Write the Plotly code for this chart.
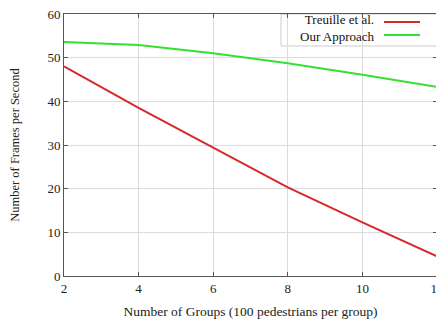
import plotly.graph_objects as go

groups = [2, 4, 6, 8, 10, 12]
treuille_fps = [48.0, 38.5, 29.4, 20.3, 12.3, 4.5]
our_fps = [53.6, 52.9, 51.0, 48.7, 46.1, 43.3]
series_names = ["Treuille et al.", "Our Approach"]
x_ticks = [2, 4, 6, 8, 10, 12]
y_ticks = [0, 10, 20, 30, 40, 50, 60]

FONT = "Liberation Serif"
RED = "#d62a2a"
GREEN = "#33e033"

# page body has an 8px margin; figure placed at (8, 8)
OFF = 8
FW, FH = 444 - OFF, 320 - OFF
L, R, T, B = 64, 437, 14, 276   # target plot area in window pixels
W, H = R - L, B - T

fig = go.Figure()
fig.add_trace(go.Scatter(x=groups, y=treuille_fps, mode="lines", name=series_names[0],
                         line=dict(color=RED, width=2), showlegend=False))
fig.add_trace(go.Scatter(x=groups, y=our_fps, mode="lines", name=series_names[1],
                         line=dict(color=GREEN, width=2), showlegend=False))

axis_common = dict(showgrid=True, gridcolor="#dcdcdc", gridwidth=1,
                   showline=True, linecolor="#555555", linewidth=1, mirror="ticks",
                   ticks="inside", ticklen=4, tickcolor="#555555", zeroline=False,
                   automargin=False, ticklabeloverflow="allow",
                   tickfont=dict(family=FONT, size=13, color="#222222"))

fig.update_xaxes(range=[2, 12], tickvals=x_ticks,
                 title=dict(text="Number of Groups (100 pedestrians per group)",
                            font=dict(family=FONT, size=13.5, color="#222222"), standoff=11),
                 **axis_common)
fig.update_yaxes(range=[0, 60], tickvals=y_ticks,
                 title=dict(text="Number of Frames per Second",
                            font=dict(family=FONT, size=12.5, color="#222222"), standoff=25),
                 **axis_common)

# Custom gnuplot-style key: text right-aligned, line sample on the right
fig.add_shape(type="rect", xref="paper", yref="paper", x0=(281 - L) / W, x1=1.0,
              y0=1 - (46 - T) / H, y1=1.0, fillcolor="white",
              line=dict(color="#cccccc", width=1), layer="below")
fig.add_annotation(xref="paper", yref="paper", x=(377 - L) / W, y=1 - (28.5 - T) / H,
                   text=series_names[0] + "<br>" + series_names[1],
                   showarrow=False, xanchor="right", yanchor="middle", align="right",
                   font=dict(family=FONT, size=13, color="#111111"))
for col, ypx in [(RED, 22), (GREEN, 35)]:
    yp = 1 - (ypx - T) / H
    fig.add_shape(type="line", xref="paper", yref="paper", x0=(384 - L) / W, x1=(420 - L) / W,
                  y0=yp, y1=yp, line=dict(color=col, width=2))

fig.update_layout(width=FW, height=FH,
                  margin=dict(l=L - OFF, r=444 - R, t=T - OFF, b=320 - B, autoexpand=False),
                  plot_bgcolor="white", paper_bgcolor="white",
                  font=dict(family=FONT))
fig.write_html("out.html")
